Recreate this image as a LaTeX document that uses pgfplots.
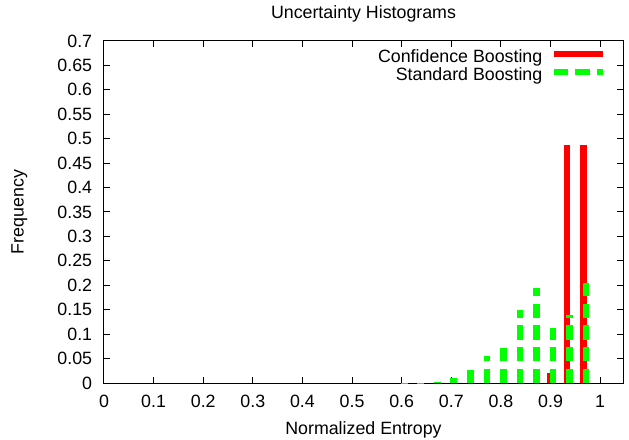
\documentclass[border=0pt]{standalone}
\usepackage{fontspec}
\setmainfont{Liberation Sans}
\usepackage{pgfplots}
\pgfplotsset{compat=1.18}
\definecolor{gred}{RGB}{255,0,0}
\definecolor{ggreen}{RGB}{0,255,0}
\newcommand{\gfont}{\fontsize{17.8bp}{21bp}\selectfont}

\begin{document}
\begin{tikzpicture}
\begin{axis}[
    at={(0,0)}, anchor=south west,
    scale only axis, width=519bp, height=342bp,
    xmin=0, xmax=1.046, ymin=0, ymax=0.7,
    axis line style={line width=1bp},
    every tick/.style={black, line width=1bp},
    major tick length=6bp,
    tick align=inside,
    xtick={0,0.1,0.2,0.3,0.4,0.5,0.6,0.7,0.8,0.9,1},
    ytick={0,0.05,0.1,0.15,0.2,0.25,0.3,0.35,0.4,0.45,0.5,0.55,0.6,0.65,0.7},
    /pgf/number format/assume math mode=true,
    /pgf/number format/.cd, fixed, precision=2, /pgfplots/.cd,
    tick label style={font=\gfont, inner sep=0pt},
    xticklabel style={anchor=base, yshift=-24.7bp},
    yticklabel style={anchor=east, xshift=-11.7bp},
    title={Uncertainty Histograms},
    title style={font=\gfont, at={(axis description cs:0.5,1.047)}, anchor=base, inner sep=0pt},
    xlabel={Normalized Entropy},
    xlabel style={font=\gfont, at={(axis description cs:0.5,-0.152)}, anchor=base, inner sep=0pt},
    ylabel={Frequency},
    ylabel style={font=\gfont, at={(axis description cs:-0.1547,0.5)}, anchor=base, rotate=0, inner sep=0pt},
    legend plot pos=right,
    legend cell align=right,
    legend style={font=\gfont, draw=none, fill=none, inner sep=0pt, outer sep=0pt,
        row sep=0pt, column sep=8bp,
        at={(axis description cs:0.9673,0.978)}, anchor=north east,
        nodes={inner sep=0pt, text height=13.5bp, text depth=4.5bp}},
]
\addplot[ycomb, draw=gred, line width=6.7bp,
    legend image code/.code={\draw[gred, line width=6.7bp] (0bp,0.35em) -- (49bp,0.35em);}]
    coordinates {
    (0.9, 0.021)
    (0.93333, 0.488)
    (0.96667, 0.488)
};
\addlegendentry{Confidence Boosting}
\addplot[ycomb, draw=ggreen, line width=6.7bp, dash pattern=on 14.3bp off 7.4bp,
    legend image code/.code={\draw[ggreen, line width=6.7bp, dash pattern=on 14.3bp off 7.4bp] (0bp,0.35em) -- (49bp,0.35em);}]
    coordinates {
    (0.605, 0.001)
    (0.63833, 0.001)
    (0.67167, 0.003)
    (0.705, 0.010)
    (0.73833, 0.027)
    (0.77167, 0.055)
    (0.805, 0.072)
    (0.83833, 0.149)
    (0.87167, 0.194)
    (0.905, 0.112)
    (0.93833, 0.139)
    (0.97167, 0.205)
};
\addlegendentry{Standard Boosting}
\end{axis}
\path[use as bounding box] (-104bp,-57bp) rectangle (525bp,383bp);
\end{tikzpicture}
\end{document}
